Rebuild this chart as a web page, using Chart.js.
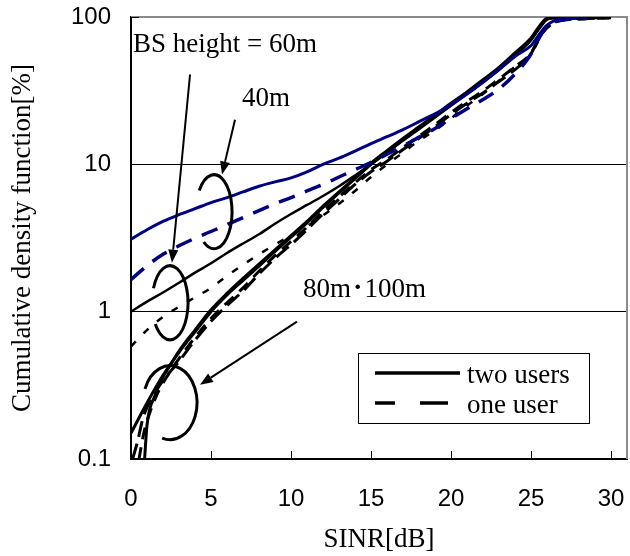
<!DOCTYPE html>
<html>
<head>
<meta charset="utf-8">
<script src="https://cdn.jsdelivr.net/npm/chart.js@4"></script>
<style>
  html, body { margin: 0; padding: 0; background: #fff; }
</style>
</head>
<body>
<canvas id="cdfChart" width="630" height="556"></canvas>
<script>
// SINR [dB] / CDF [%] per BS height and user count
const sinr40Two = [0, 1, 2, 3, 4, 5, 6, 7, 8, 9, 10, 11, 12, 13, 14, 15, 16, 17, 18, 19, 20, 21, 22, 23, 24, 25, 25.5, 26, 26.5, 27, 28];
const cdf40Two  = [3.1, 3.6, 4.1, 4.55, 5.0, 5.5, 5.95, 6.5, 7.1, 7.6, 8.1, 8.9, 10, 11, 12.3, 13.8, 15.4, 17.2, 19.5, 22, 25.5, 30, 36, 44, 54, 64, 76, 88, 95, 97, 98];

const sinr40One = [0, 1, 2, 3, 4, 5, 6, 7, 8, 9, 10, 11, 12, 13, 14, 15, 16, 17, 18, 19, 20, 21, 22, 23, 24, 24.9, 25.7, 26.4, 27, 28, 28.5];
const cdf40One  = [1.65, 2.05, 2.45, 2.8, 3.15, 3.5, 3.9, 4.35, 4.85, 5.4, 5.95, 6.6, 7.3, 8.2, 9.2, 10.3, 11.7, 13.3, 15.3, 17.5, 20.5, 23.8, 27.5, 32.5, 41, 54, 78, 92, 96, 97.5, 98];

const sinr60Two = [0, 1, 2, 3, 4, 5, 6, 7, 8, 9, 10, 11, 12, 13, 14, 15, 16, 17, 18, 19, 20, 21, 22, 23, 24, 25, 25.5, 26, 26.5, 27, 30];
const cdf60Two  = [1.0, 1.17, 1.35, 1.57, 1.84, 2.13, 2.5, 2.9, 3.35, 3.95, 4.6, 5.3, 6.1, 7.1, 8.4, 10, 12, 14.5, 17.3, 20.8, 25, 30, 36, 44, 55, 70, 83, 96, 98.5, 99, 99.5];

const sinr60One = [0, 1, 2, 3, 4, 5, 6, 7, 8, 9, 10, 11, 12, 13, 14, 15, 16, 17, 18, 19, 20, 21, 22, 23, 24, 25, 25.5, 26, 26.5, 27, 28, 30];
const cdf60One  = [0.58, 0.75, 0.92, 1.08, 1.25, 1.45, 1.75, 2.08, 2.45, 2.85, 3.3, 3.8, 4.5, 5.4, 6.6, 8.2, 10, 12, 14.5, 17, 20.5, 25, 30, 37, 46, 56, 70, 86, 93, 96, 97.5, 99];

const sinr80Two = [0, 1, 2, 3, 4, 5, 6, 7, 8, 9, 10, 11, 12, 13, 14, 15, 16, 17, 18, 19, 20, 21, 22, 23, 24, 25, 25.5, 26, 26.5, 30];
const cdf80Two  = [0.15, 0.24, 0.37, 0.53, 0.73, 1.0, 1.3, 1.63, 2.04, 2.57, 3.2, 4.0, 5.1, 6.4, 8.0, 10, 12.1, 14.7, 17.7, 21.2, 25.4, 30.4, 36.5, 44, 55, 70, 84, 97, 99, 99.6];

const sinr100Two = [0.85, 1, 1.5, 2, 2.5, 3, 4, 5, 6, 7, 8, 9, 10, 11, 12, 13, 14, 15, 16, 17, 18, 19, 20, 21, 22, 23, 24, 25, 25.5, 26, 26.5, 30];
const cdf100Two  = [0.1, 0.17, 0.27, 0.36, 0.44, 0.54, 0.75, 1.03, 1.33, 1.68, 2.1, 2.63, 3.28, 4.1, 5.2, 6.5, 8.1, 10.2, 12.4, 15, 18, 21.6, 26, 31, 37.5, 45.5, 57, 72, 86, 98, 99, 99.6];

const sinr80One = [0.1, 0.4, 0.75, 1.3, 2, 3, 4, 5, 6, 7, 8, 9, 10, 11, 12, 13, 14, 15, 16, 17, 18, 19, 20, 21, 22, 23, 24, 24.9, 25.7, 26.4, 27, 28, 29, 30];
const cdf80One  = [0.1, 0.13, 0.19, 0.26, 0.34, 0.46, 0.64, 0.86, 1.1, 1.38, 1.8, 2.3, 2.85, 3.6, 4.6, 5.8, 7.3, 8.9, 10.5, 12.6, 15, 18, 21.8, 26, 30.5, 36.5, 44, 54, 78, 91, 95, 97, 98, 99];

const sinr100One = [0.5, 0.8, 1.2, 1.8, 2.5, 3, 4, 5, 6, 7, 8, 9, 10, 11, 12, 13, 14, 15, 16, 17, 18, 19, 20, 21, 22, 23, 24, 25, 25.6, 26.3, 27, 28, 30];
const cdf100One  = [0.1, 0.15, 0.21, 0.3, 0.4, 0.48, 0.67, 0.9, 1.15, 1.45, 1.88, 2.4, 3.0, 3.75, 4.8, 6.0, 7.5, 9.2, 10.8, 13, 15.5, 18.6, 22.5, 26.8, 31.5, 38, 46, 57, 75, 90, 95.5, 97, 98.5];

const xTicks = [0, 5, 10, 15, 20, 25, 30];
const yTicks = [0.1, 1, 10, 100];

// text labels, arrows and open ellipses, placed in axis units
const notes = [
  { text: 'BS height = 60m', x: 0.12, y: 58 },
  { text: '40m', x: 6.94, y: 25 },
  { text: '80m\uff65100m', x: 10.75, y: 1.26 }
];
const arrows = [
  { x0: 3.69, y0: 40.7, x1: 2.56, y1: 2.15 },
  { x0: 6.5, y0: 20.1, x1: 5.69, y1: 8.53 },
  { x0: 10.375, y0: 0.855, x1: 4.31, y1: 0.319 }
];
const rings = [
  { x: 5.19, y: 4.77, rx: 18, ry: 37, from: -145, to: 125 },
  { x: 2.44, y: 1.15, rx: 18, ry: 37, from: -157, to: 145 },
  { x: 2.44, y: 0.241, rx: 27, ry: 37, from: -158, to: 107 }
];

const NAVY = '#000080';
const SERIF = 'Liberation Serif';
const SANS = 'Liberation Sans';

function pts(xs, ys) {
  return xs.map((x, i) => ({ x: x, y: ys[i] }));
}

function curve(label, xs, ys, color, width, dash) {
  return {
    label: label,
    data: pts(xs, ys),
    borderColor: color,
    borderWidth: width,
    borderDash: dash || [],
    pointRadius: 0,
    fill: false,
    cubicInterpolationMode: 'monotone'
  };
}

const decor = {
  id: 'decor',
  beforeDatasetsDraw(chart) {
    const { ctx, chartArea: a, scales } = chart;
    ctx.save();
    // grey frame top/right
    ctx.strokeStyle = '#8a8a8a';
    ctx.lineWidth = 2;
    ctx.beginPath();
    ctx.moveTo(a.left, a.top);
    ctx.lineTo(a.right, a.top);
    ctx.lineTo(a.right, a.bottom);
    ctx.stroke();
    // inward tick marks
    ctx.strokeStyle = '#000';
    ctx.lineWidth = 1;
    ctx.beginPath();
    xTicks.forEach(v => {
      const px = Math.round(scales.x.getPixelForValue(v)) + 0.5;
      ctx.moveTo(px, a.bottom);
      ctx.lineTo(px, a.bottom - 8);
    });
    const ty = Math.round(scales.y.getPixelForValue(100)) + 0.5;
    ctx.moveTo(a.left, ty);
    ctx.lineTo(a.left + 8, ty);
    ctx.stroke();
    ctx.restore();
  },
  afterDatasetsDraw(chart) {
    const { ctx, chartArea: a, scales } = chart;
    const X = v => scales.x.getPixelForValue(v);
    const Y = v => scales.y.getPixelForValue(v);
    ctx.save();
    ctx.fillStyle = '#000';
    ctx.strokeStyle = '#000';

    ctx.font = '27px "' + SERIF + '", "Noto Sans CJK JP", serif';
    ctx.textBaseline = 'alphabetic';
    ctx.textAlign = 'left';
    notes.forEach(n => ctx.fillText(n.text, X(n.x), Y(n.y)));

    ctx.lineWidth = 3;
    rings.forEach(r => {
      ctx.beginPath();
      ctx.ellipse(X(r.x), Y(r.y), r.rx, r.ry, 0, r.from * Math.PI / 180, r.to * Math.PI / 180, false);
      ctx.stroke();
    });

    arrows.forEach(ar => {
      const x0 = X(ar.x0), y0 = Y(ar.y0), x1 = X(ar.x1), y1 = Y(ar.y1);
      const ang = Math.atan2(y1 - y0, x1 - x0);
      const head = 13, half = 5;
      const bx = x1 - head * Math.cos(ang), by = y1 - head * Math.sin(ang);
      ctx.lineWidth = 2;
      ctx.beginPath();
      ctx.moveTo(x0, y0);
      ctx.lineTo(bx, by);
      ctx.stroke();
      ctx.beginPath();
      ctx.moveTo(x1, y1);
      ctx.lineTo(bx + half * Math.sin(ang), by - half * Math.cos(ang));
      ctx.lineTo(bx - half * Math.sin(ang), by + half * Math.cos(ang));
      ctx.closePath();
      ctx.fill();
    });

    // legend box
    const bx = a.right - 269, by = a.bottom - 106, bw = 231, bh = 70;
    ctx.fillStyle = '#fff';
    ctx.fillRect(bx, by, bw, bh);
    ctx.lineWidth = 1;
    ctx.strokeRect(bx + 0.5, by + 0.5, bw, bh);
    ctx.fillStyle = '#000';
    ctx.lineWidth = 3.5;
    ctx.beginPath();
    ctx.moveTo(bx + 17, by + 20);
    ctx.lineTo(bx + 102, by + 20);
    ctx.stroke();
    ctx.setLineDash([20, 25, 28, 100]);
    ctx.beginPath();
    ctx.moveTo(bx + 17, by + 50);
    ctx.lineTo(bx + 90, by + 50);
    ctx.stroke();
    ctx.setLineDash([]);
    ctx.fillText('two users', bx + 109, by + 30);
    ctx.fillText('one user', bx + 109, by + 60);
    ctx.restore();
  }
};

const ctx = document.getElementById('cdfChart').getContext('2d');

const cdfChart = new Chart(ctx, {
  type: 'line',
  data: {
    datasets: [
      curve('40m two users', sinr40Two, cdf40Two, NAVY, 3),
      curve('40m one user', sinr40One, cdf40One, NAVY, 3.5, [17, 11]),
      curve('60m two users', sinr60Two, cdf60Two, '#000', 2.5),
      curve('60m one user', sinr60One, cdf60One, '#000', 2.5, [7, 11]),
      curve('80m two users', sinr80Two, cdf80Two, '#000', 3),
      curve('100m two users', sinr100Two, cdf100Two, '#000', 3),
      curve('80m one user', sinr80One, cdf80One, '#000', 3, [16, 7]),
      curve('100m one user', sinr100One, cdf100One, '#000', 3, [12, 8])
    ]
  },
  options: {
    responsive: false,
    animation: false,
    layout: { padding: { top: 17, right: 3, left: 0, bottom: 0 } },
    plugins: {
      legend: { display: false },
      tooltip: { enabled: false }
    },
    scales: {
      x: {
        type: 'linear',
        min: 0,
        max: 31,
        afterBuildTicks: s => { s.ticks = xTicks.map(v => ({ value: v })); },
        afterFit: s => { s.height = 97; s.paddingLeft = 0; s.paddingRight = 0; },
        grid: { display: false, drawTicks: false },
        border: { color: '#000', width: 2 },
        ticks: {
          color: '#000',
          font: { family: SANS, size: 24 },
          padding: 26,
          maxRotation: 0,
          autoSkip: false
        },
        title: {
          display: true,
          text: 'SINR[dB]',
          color: '#000',
          font: { family: SERIF, size: 27 },
          padding: { top: 0, bottom: 0 }
        }
      },
      y: {
        type: 'logarithmic',
        min: 0.1,
        max: 100,
        afterBuildTicks: s => { s.ticks = yTicks.map(v => ({ value: v })); },
        afterFit: s => { s.width = 131; s.paddingTop = 0; s.paddingBottom = 0; },
        grid: {
          color: c => (c.tick && (c.tick.value === 1 || c.tick.value === 10)) ? '#000' : 'rgba(0,0,0,0)',
          lineWidth: 1,
          drawTicks: false
        },
        border: { color: '#000', width: 2 },
        ticks: {
          color: '#000',
          font: { family: SANS, size: 24 },
          padding: 20,
          autoSkip: false,
          callback: v => String(v)
        },
        title: {
          display: true,
          text: 'Cumulative density function[%]',
          color: '#000',
          font: { family: SERIF, size: 27 },
          padding: { top: 7, bottom: 0 }
        }
      }
    }
  },
  plugins: [decor]
});
</script>
</body>
</html>
